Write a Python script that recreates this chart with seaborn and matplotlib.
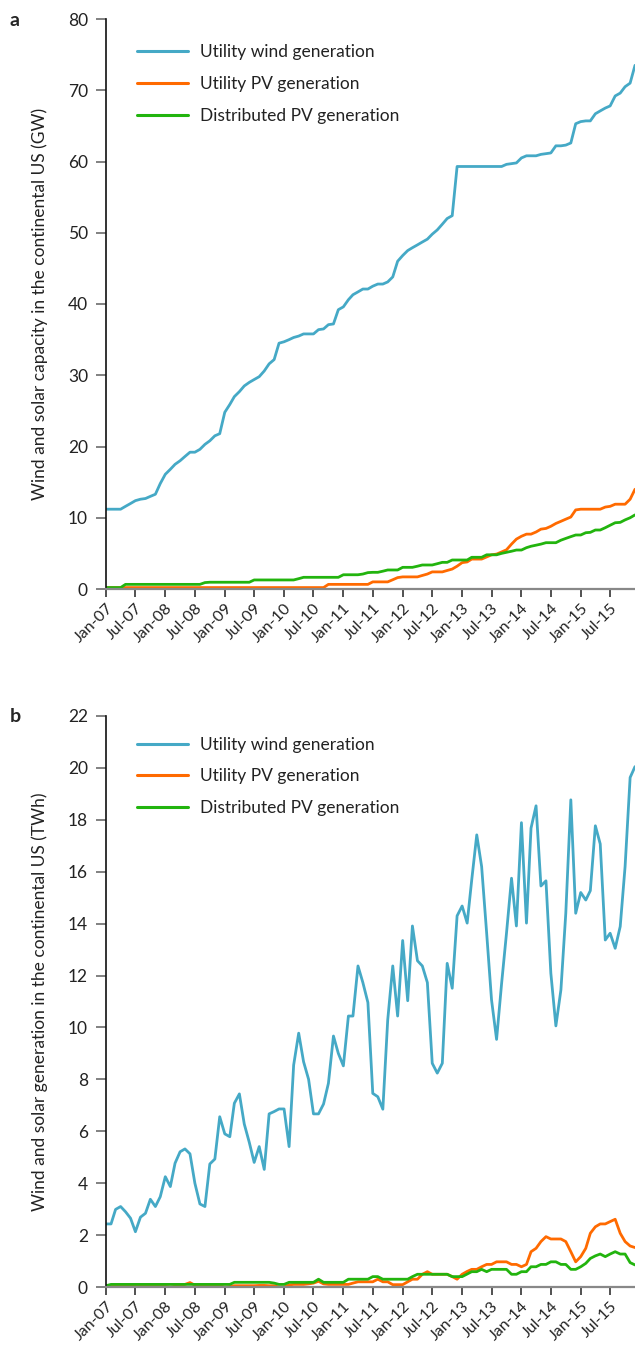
import numpy as np
import pandas as pd
import matplotlib
matplotlib.use("Agg")
import matplotlib.pyplot as plt
import matplotlib.dates as mdates
import seaborn as sns

# ---------------- data (monthly, Jan-2007 .. Dec-2015) ----------------
months = pd.date_range("2007-01-01", "2015-12-01", freq="MS")

series_names = ["Utility wind generation", "Utility PV generation", "Distributed PV generation"]

# Panel a: capacity (GW)
wind_capacity = [
    11.2, 11.2, 11.2, 11.2, 11.6, 12.0, 12.4, 12.6, 12.7, 13.0, 13.3, 14.8,
    16.1, 16.8, 17.5, 18.0, 18.6, 19.2, 19.2, 19.6, 20.3, 20.8, 21.5, 21.8,
    24.8, 25.9, 27.0, 27.7, 28.5, 29.0, 29.4, 29.8, 30.6, 31.6, 32.2, 34.5,
    34.7, 35.0, 35.3, 35.5, 35.8, 35.8, 35.8, 36.4, 36.5, 37.1, 37.2, 39.2,
    39.6, 40.6, 41.3, 41.7, 42.1, 42.1, 42.5, 42.8, 42.8, 43.1, 43.8, 46.0,
    46.8, 47.5, 47.9, 48.3, 48.7, 49.1, 49.8, 50.4, 51.2, 52.0, 52.4, 59.3,
    59.3, 59.3, 59.3, 59.3, 59.3, 59.3, 59.3, 59.3, 59.3, 59.6, 59.7, 59.8,
    60.5, 60.8, 60.8, 60.8, 61.0, 61.1, 61.2, 62.2, 62.2, 62.3, 62.6, 65.3,
    65.6, 65.7, 65.7, 66.7, 67.1, 67.5, 67.8, 69.2, 69.6, 70.5, 71.0, 73.5,
]
utility_pv_capacity = [
    0.2, 0.2, 0.2, 0.2, 0.2, 0.2, 0.2, 0.2, 0.2, 0.2, 0.2, 0.2,
    0.2, 0.2, 0.2, 0.2, 0.2, 0.2, 0.2, 0.2, 0.2, 0.2, 0.2, 0.2,
    0.2, 0.2, 0.2, 0.2, 0.2, 0.2, 0.2, 0.2, 0.2, 0.2, 0.2, 0.2,
    0.2, 0.2, 0.2, 0.2, 0.2, 0.2, 0.2, 0.2, 0.2, 0.65, 0.65, 0.65,
    0.65, 0.65, 0.65, 0.65, 0.65, 0.65, 1.0, 1.0, 1.0, 1.0, 1.3, 1.6,
    1.7, 1.7, 1.7, 1.7, 1.9, 2.1, 2.4, 2.4, 2.4, 2.6, 2.8, 3.2,
    3.7, 3.8, 4.2, 4.2, 4.2, 4.5, 4.8, 4.9, 5.2, 5.5, 6.3, 7.0,
    7.4, 7.7, 7.7, 8.0, 8.4, 8.5, 8.8, 9.2, 9.5, 9.8, 10.1, 11.1,
    11.2, 11.2, 11.2, 11.2, 11.2, 11.5, 11.6, 11.9, 11.9, 11.9, 12.6, 14.0,
]
distributed_pv_capacity = [
    0.2, 0.2, 0.2, 0.2, 0.65, 0.65, 0.65, 0.65, 0.65, 0.65, 0.65, 0.65,
    0.65, 0.65, 0.65, 0.65, 0.65, 0.65, 0.65, 0.65, 0.9, 0.95, 0.95, 0.95,
    0.95, 0.95, 0.95, 0.95, 0.95, 0.95, 1.27, 1.27, 1.27, 1.27, 1.27, 1.27,
    1.27, 1.27, 1.27, 1.45, 1.64, 1.64, 1.64, 1.64, 1.64, 1.64, 1.64, 1.64,
    2.0, 2.0, 2.0, 2.0, 2.1, 2.3, 2.34, 2.34, 2.5, 2.67, 2.67, 2.67,
    3.04, 3.04, 3.04, 3.2, 3.37, 3.37, 3.37, 3.55, 3.74, 3.74, 4.07, 4.07,
    4.07, 4.07, 4.45, 4.45, 4.45, 4.8, 4.8, 4.8, 5.0, 5.15, 5.3, 5.47,
    5.47, 5.8, 6.0, 6.15, 6.3, 6.5, 6.5, 6.5, 6.85, 7.1, 7.35, 7.58,
    7.58, 7.9, 7.95, 8.28, 8.28, 8.6, 8.95, 9.3, 9.35, 9.7, 10.0, 10.4,
]

# Panel b: generation (TWh)
wind_generation = [
    2.43, 2.43, 2.99, 3.10, 2.90, 2.65, 2.13, 2.69, 2.84, 3.38, 3.10, 3.48,
    4.25, 3.87, 4.77, 5.21, 5.32, 5.13, 4.00, 3.20, 3.10, 4.74, 4.93, 6.56,
    5.90, 5.79, 7.08, 7.44, 6.28, 5.57, 4.80, 5.41, 4.53, 6.67, 6.76, 6.86,
    6.86, 5.41, 8.55, 9.78, 8.68, 8.00, 6.67, 6.67, 7.05, 7.85, 9.67, 9.00,
    8.52, 10.44, 10.44, 12.37, 11.73, 10.96, 7.46, 7.33, 6.85, 10.29, 12.37, 10.44,
    13.35, 11.03, 13.91, 12.57, 12.37, 11.73, 8.62, 8.24, 8.62, 12.47, 11.51, 14.30,
    14.68, 14.02, 15.68, 17.42, 16.20, 13.63, 11.06, 9.54, 11.70, 13.63, 15.75, 13.91,
    17.89, 14.02, 17.68, 18.54, 15.45, 15.65, 12.09, 10.06, 11.45, 14.40, 18.77, 14.40,
    15.20, 14.91, 15.27, 17.77, 17.07, 13.37, 13.63, 13.05, 13.89, 16.20, 19.63, 20.05,
]
utility_pv_generation = [
    0.00, 0.03, 0.05, 0.05, 0.05, 0.05, 0.05, 0.05, 0.05, 0.05, 0.05, 0.05,
    0.03, 0.00, 0.03, 0.05, 0.10, 0.17, 0.07, 0.05, 0.05, 0.05, 0.05, 0.05,
    0.00, 0.02, 0.05, 0.05, 0.05, 0.05, 0.05, 0.06, 0.06, 0.05, 0.05, 0.00,
    0.00, 0.08, 0.10, 0.10, 0.10, 0.12, 0.15, 0.22, 0.12, 0.10, 0.10, 0.10,
    0.10, 0.10, 0.15, 0.20, 0.20, 0.20, 0.20, 0.30, 0.20, 0.20, 0.09, 0.09,
    0.09, 0.20, 0.30, 0.30, 0.49, 0.59, 0.49, 0.49, 0.49, 0.49, 0.40, 0.30,
    0.49, 0.60, 0.68, 0.68, 0.78, 0.87, 0.87, 0.97, 0.97, 0.97, 0.87, 0.87,
    0.78, 0.87, 1.36, 1.49, 1.75, 1.94, 1.85, 1.85, 1.85, 1.75, 1.36, 0.97,
    1.17, 1.49, 2.07, 2.32, 2.43, 2.43, 2.52, 2.61, 2.07, 1.75, 1.58, 1.52,
]
distributed_pv_generation = [
    0.05, 0.10, 0.10, 0.10, 0.10, 0.10, 0.10, 0.10, 0.10, 0.10, 0.10, 0.10,
    0.10, 0.10, 0.10, 0.10, 0.10, 0.10, 0.10, 0.10, 0.10, 0.10, 0.10, 0.10,
    0.10, 0.10, 0.18, 0.18, 0.18, 0.18, 0.18, 0.18, 0.18, 0.18, 0.15, 0.10,
    0.10, 0.18, 0.18, 0.18, 0.18, 0.18, 0.18, 0.30, 0.18, 0.18, 0.18, 0.18,
    0.18, 0.30, 0.30, 0.30, 0.30, 0.30, 0.40, 0.40, 0.30, 0.30, 0.30, 0.30,
    0.30, 0.30, 0.40, 0.49, 0.49, 0.49, 0.49, 0.49, 0.49, 0.49, 0.40, 0.40,
    0.40, 0.50, 0.59, 0.59, 0.68, 0.59, 0.68, 0.68, 0.68, 0.68, 0.49, 0.49,
    0.59, 0.59, 0.78, 0.78, 0.87, 0.87, 0.97, 0.97, 0.87, 0.87, 0.68, 0.68,
    0.78, 0.91, 1.10, 1.20, 1.27, 1.17, 1.27, 1.36, 1.27, 1.27, 0.94, 0.85,
]

colors = ["#45A9C6", "#FF6A00", "#22B40E"]

panel_letters = ["a", "b"]
y_labels = ["Wind and solar capacity in the continental US (GW)",
            "Wind and solar generation in the continental US (TWh)"]
y_limits = [(0, 80), (0, 22)]
y_steps = [10, 2]
legend_tops = [0.9675, 0.976]

# ---------------- styling ----------------
sns.set_theme(style="ticks")
plt.rcParams["font.family"] = ["Lato", "DejaVu Sans"]
plt.rcParams["axes.linewidth"] = 1.2

fig = plt.figure(figsize=(6.35, 13.48), dpi=100)
W, H = 635, 1348
ax_a = fig.add_axes([106 / W, 1 - 589 / H, 529 / W, 570 / H])
ax_b = fig.add_axes([106 / W, 1 - 1287 / H, 529 / W, 571 / H])

panels = [
    (ax_a, [wind_capacity, utility_pv_capacity, distributed_pv_capacity]),
    (ax_b, [wind_generation, utility_pv_generation, distributed_pv_generation]),
]

for k, (ax, data) in enumerate(panels):
    for name, vals, c in zip(series_names, data, colors):
        sns.lineplot(x=months, y=vals, ax=ax, color=c, linewidth=2.0, label=name)
    ax.set_xlim(pd.Timestamp("2007-01-01"), pd.Timestamp("2015-12-01"))
    ax.set_ylim(*y_limits[k])
    ax.set_yticks(np.arange(y_limits[k][0], y_limits[k][1] + 0.01, y_steps[k]))
    ax.xaxis.set_major_locator(mdates.MonthLocator(bymonth=[1, 7]))
    ax.xaxis.set_major_formatter(mdates.DateFormatter("%b-%y"))
    for lab in ax.get_xticklabels():
        lab.set_rotation(45)
        lab.set_ha("right")
        lab.set_rotation_mode("anchor")
    ax.tick_params(axis="x", labelsize=11.5, colors="#222222", length=6, width=1.1,
                   pad=3)
    ax.tick_params(axis="y", labelsize=12.5, labelcolor="#222222", color="#777777",
                   length=7, width=1.3, pad=6)
    sns.despine(ax=ax)
    ax.spines["left"].set_color("#111111")
    ax.spines["bottom"].set_color("#888888")
    ax.spines["bottom"].set_linewidth(1.6)
    ax.set_xlabel("")
    ax.set_ylabel(y_labels[k], fontsize=12.5, color="#222222")
    ax.yaxis.set_label_coords(-0.11, 0.5)
    leg = ax.legend(loc="upper left", bbox_to_anchor=(0.046, legend_tops[k]),
                    frameon=False, fontsize=12.5, handlelength=2.9,
                    handletextpad=0.7, labelspacing=0.9, borderaxespad=0.0)
    for t in leg.get_texts():
        t.set_color("#222222")
    for ln in leg.get_lines():
        ln.set_linewidth(2.2)

fig.text(10 / W, 1 - 20 / H, panel_letters[0], fontsize=14, fontweight="bold",
         va="center", ha="left")
fig.text(10 / W, 1 - 716 / H, panel_letters[1], fontsize=14, fontweight="bold",
         va="center", ha="left")

fig.savefig("out.png", dpi=100)
